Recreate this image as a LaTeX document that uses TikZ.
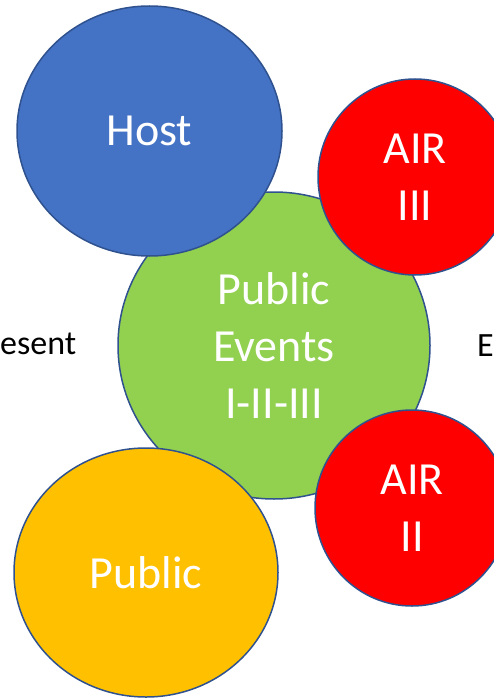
\documentclass[tikz,border=0pt]{standalone}
\usepackage{fontspec}
\setmainfont{Carlito}
\usetikzlibrary{shapes.geometric}
\definecolor{hostblue}{HTML}{4472C4}
\definecolor{evgreen}{HTML}{92D050}
\definecolor{pubor}{HTML}{FFC000}
\definecolor{airred}{HTML}{FF0000}
\definecolor{edgeblue}{HTML}{2F528F}
\tikzset{
  bubble/.style={ellipse, draw=edgeblue, line width=1.5pt, inner sep=0pt,
    text=white, align=center, font=\fontsize{46}{57}\selectfont},
  sidetext/.style={inner sep=0pt, text=black, font=\fontsize{34}{40}\selectfont}
}
\begin{document}
\begin{tikzpicture}[x=1pt,y=-1pt]
\useasboundingbox (0,0) rectangle (494,698);
\node[sidetext, anchor=base west] (left) at (0,354) {esent};
\node[sidetext, anchor=base west] (right) at (477,356) {E};
\node[bubble, fill=evgreen, minimum width=312pt, minimum height=307pt] (events) at (274,345.5) {Public\\Events\\I-II-III};
\node[bubble, fill=hostblue, minimum width=265pt, minimum height=250pt] (host) at (149.5,131) {Host};
\node[bubble, fill=airred, minimum width=194pt, minimum height=196pt] (air3) at (415,177) {AIR\\III};
\node[bubble, fill=airred, minimum width=194pt, minimum height=196pt] (air2) at (412,508) {AIR\\II};
\node[bubble, fill=pubor, minimum width=264pt, minimum height=249pt] (public) at (146,572.5) {Public};
\end{tikzpicture}
\end{document}
